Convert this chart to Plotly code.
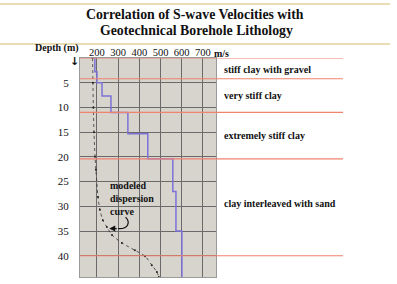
import plotly.graph_objects as go

# Data
vs_velocity = [190, 200, 224, 266, 346, 440, 558, 573, 601, 601]
vs_depth = [0, 2.8, 5, 7.7, 11, 15.3, 20.4, 27, 35, 44.3]

disp_depth = [0, 5, 10, 15, 20, 22.6, 28.1, 30.7, 32.8, 34.2, 35.8, 37.4, 38.9, 40.1, 41.9, 43.3, 44.3]
disp_velocity = [179, 181, 183, 186, 191, 195, 205, 214, 228, 247, 271, 318, 379, 427, 459, 483, 492]

layer_boundaries = [0, 4.2, 11, 20.4, 40]
layer_names = ["stiff clay with gravel", "very stiff clay", "extremely stiff clay",
               "clay interleaved with sand"]
layer_label_depths = [2.3, 7.6, 15.7, 29.4]

x_ticks = [200, 300, 400, 500, 600, 700]
x_ticktext = ["200", "300", "400", "500", "600", "700"]
x_unit = "m/s"
y_ticks = [5, 10, 15, 20, 25, 30, 35, 40]

SERIF = "Liberation Serif, Times New Roman, serif"
FONT_B = dict(family=SERIF, size=10.5, color="#111")

fig = go.Figure()

fig.add_trace(go.Scatter(
    x=disp_velocity, y=disp_depth, mode="lines+markers",
    line=dict(color="#333", width=0.8, dash="dot", shape="spline", smoothing=0.8),
    marker=dict(size=2, color="#222"), hoverinfo="skip", showlegend=False))

fig.add_trace(go.Scatter(
    x=vs_velocity, y=vs_depth, mode="lines",
    line=dict(color="#7d72d8", width=1.5, shape="vh"),
    hoverinfo="skip", showlegend=False))

shapes = []
for d in layer_boundaries:
    shapes.append(dict(type="line", xref="paper", yref="y", x0=0, x1=1.934, y0=d, y1=d,
                       line=dict(color="#f0826e", width=1.2), layer="above"))
# decorative tan slide lines
for yp in [1.2466, 1.064]:
    shapes.append(dict(type="line", xref="paper", yref="paper", x0=-0.588, x1=2.28, y0=yp, y1=yp,
                       line=dict(color="#eadcb4", width=2)))
# curved arrow body
shapes.append(dict(type="path", xref="x", yref="y",
                   path="M 335,32.2 C 358,33.2 350,34.6 300,34.5",
                   line=dict(color="#111", width=1.2)))

annotations = []
for name, d in zip(layer_names, layer_label_depths):
    annotations.append(dict(xref="paper", yref="y", x=(222 - 80) / 136, y=d, text="<b>%s</b>" % name,
                            showarrow=False, xanchor="left", yanchor="middle",
                            font=dict(family=SERIF, size=10, color="#111")))
annotations.append(dict(xref="paper", yref="paper", x=(195 - 80) / 136, y=(277 - 14) / 219,
                        text="<b>Correlation of S-wave Velocities with</b>",
                        showarrow=False, xanchor="center", yanchor="middle",
                        font=dict(family=SERIF, size=13.8, color="#111")))
annotations.append(dict(xref="paper", yref="paper", x=(196 - 80) / 136, y=(277 - 31) / 219,
                        text="<b>Geotechnical Borehole Lithology</b>",
                        showarrow=False, xanchor="center", yanchor="middle",
                        font=dict(family=SERIF, size=13.8, color="#111")))
annotations.append(dict(xref="paper", yref="paper", x=(81 - 80) / 136, y=(277 - 48) / 219,
                        text="<b>Depth (m)</b>", showarrow=False, xanchor="right", yanchor="middle",
                        font=dict(family=SERIF, size=10, color="#111")))
annotations.append(dict(xref="paper", yref="y", x=(74 - 80) / 136, y=0.7,
                        text="<b>↓</b>", showarrow=False, xanchor="center", yanchor="middle",
                        font=dict(family="DejaVu Sans", size=11, color="#111")))
annotations.append(dict(xref="paper", yref="paper", x=(212 - 80) / 136, y=(277 - 53) / 219,
                        text="<b>%s</b>" % x_unit, showarrow=False, xanchor="left", yanchor="middle",
                        font=dict(family=SERIF, size=10, color="#111")))
annotations.append(dict(xref="x", yref="y", x=250, y=28.4,
                        text="<b>modeled<br>dispersion<br>curve</b>", showarrow=False,
                        xanchor="left", yanchor="middle", align="left",
                        font=dict(family=SERIF, size=10, color="#111")))
annotations.append(dict(xref="x", yref="y", x=258, y=34.5, ax=9, ay=0, text="",
                        showarrow=True, arrowhead=2, arrowsize=1, arrowwidth=1.2,
                        arrowcolor="#111"))

fig.update_layout(
    width=397, height=284,
    margin=dict(l=80, r=181, t=58, b=7),
    paper_bgcolor="white", plot_bgcolor="#d7d4cd",
    shapes=shapes, annotations=annotations,
    xaxis=dict(range=[120, 762], side="top", tickvals=x_ticks, ticktext=x_ticktext,
               tickangle=0, showgrid=True, gridcolor="#6a6a6a", gridwidth=1, zeroline=False,
               ticks="", ticklabelstandoff=-3, tickfont=FONT_B, showline=True, mirror=True,
               linecolor="#9a9a9a", fixedrange=True),
    yaxis=dict(range=[44.3, 0], tickvals=y_ticks, showgrid=True, gridcolor="#6a6a6a",
               gridwidth=1, zeroline=False, ticks="", ticklabelstandoff=8,
               tickfont=dict(family=SERIF, size=11, color="#111"),
               showline=True, mirror=True, linecolor="#9a9a9a", fixedrange=True),
)

fig.write_html("out.html", post_script="document.body.style.margin='0';",
               config={"displayModeBar": False})
